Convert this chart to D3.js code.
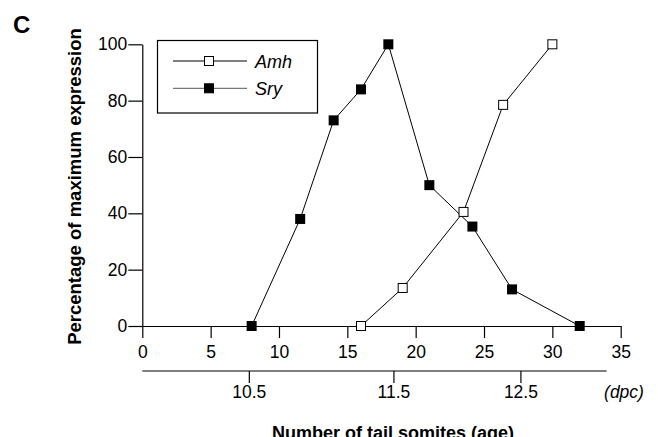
<!DOCTYPE html>
<html>
<head>
<meta charset="utf-8">
<script src="https://cdn.jsdelivr.net/npm/d3@7"></script>
<style>
  body { margin: 0; background: #fff; }
  svg { display: block; font-family: "Liberation Sans", Arial, sans-serif; }
</style>
</head>
<body>
<svg id="chart" width="658" height="437"></svg>
<script>
// Data
var sryX = [8, 11.55, 14, 16, 18, 21, 24.15, 27.05, 32];
var sryY = [0, 38, 73, 84, 100, 50, 35.3, 13, 0];
var amhX = [16, 19.05, 23.5, 26.4, 30];
var amhY = [0, 13.5, 40.5, 78.5, 100];

var xTicks = [0, 5, 10, 15, 20, 25, 30, 35];
var yTicks = [0, 20, 40, 60, 80, 100];
// age axis: labels and the somite count they sit at
var dpcLabels = ["10.5", "11.5", "12.5"];
var dpcSomites = [7.83, 18.41, 27.7];

var svg = d3.select("#chart");

var xScale = d3.scaleLinear().domain([0, 35]).range([142.3, 620.7]);
var yScale = d3.scaleLinear().domain([0, 100]).range([326, 44.3]);

// Axes
var xAxis = d3.axisBottom(xScale).tickValues(xTicks).tickSize(12).tickPadding(8).tickSizeOuter(0);
var gx = svg.append("g")
    .attr("transform", "translate(0," + yScale(0) + ")")
    .call(xAxis);

var yAxis = d3.axisLeft(yScale).tickValues(yTicks).tickSize(14).tickPadding(1).tickSizeOuter(0);
var gy = svg.append("g")
    .attr("transform", "translate(" + xScale(0) + ",0)")
    .call(yAxis);

[gx, gy].forEach(function(g) {
    g.selectAll("path, line").attr("stroke", "#000").attr("stroke-width", 1.2);
    g.selectAll("text").attr("font-size", 17.5).attr("fill", "#000")
        .attr("font-family", "Liberation Sans, Arial, sans-serif");
});

// Secondary age axis
var ageY = 371;
var ageG = svg.append("g");
ageG.append("line")
    .attr("x1", xScale(0)).attr("x2", xScale(33.97))
    .attr("y1", ageY).attr("y2", ageY)
    .attr("stroke", "#000").attr("stroke-width", 1.2);
ageG.selectAll(".agetick")
    .data(dpcSomites)
    .enter().append("line")
    .attr("x1", function(d) { return xScale(d); })
    .attr("x2", function(d) { return xScale(d); })
    .attr("y1", ageY).attr("y2", ageY + 12)
    .attr("stroke", "#000").attr("stroke-width", 1.2);
ageG.selectAll(".agelabel")
    .data(dpcLabels)
    .enter().append("text")
    .attr("x", function(d, i) { return xScale(dpcSomites[i]); })
    .attr("y", 398)
    .attr("text-anchor", "middle")
    .attr("font-size", 17.5)
    .text(function(d) { return d; });
ageG.append("text")
    .attr("x", 624).attr("y", 398)
    .attr("text-anchor", "middle")
    .attr("font-size", 17.5)
    .attr("font-style", "italic")
    .text("(dpc)");

// Titles
svg.append("text")
    .attr("x", 393).attr("y", 439)
    .attr("text-anchor", "middle")
    .attr("font-size", 18).attr("font-weight", "bold")
    .text("Number of tail somites (age)");

svg.append("text")
    .attr("transform", "translate(81,186.5) rotate(-90)")
    .attr("text-anchor", "middle")
    .attr("font-size", 18.5).attr("font-weight", "bold")
    .text("Percentage of maximum expression");

svg.append("text")
    .attr("x", 13).attr("y", 33)
    .attr("font-size", 24).attr("font-weight", "bold")
    .text("C");

// Series
var line = d3.line()
    .x(function(d) { return xScale(d[0]); })
    .y(function(d) { return yScale(d[1]); });

var sry = d3.zip(sryX, sryY);
var amh = d3.zip(amhX, amhY);
var sq = 10;

svg.append("path").datum(sry).attr("d", line)
    .attr("fill", "none").attr("stroke", "#000").attr("stroke-width", 1);
svg.append("path").datum(amh).attr("d", line)
    .attr("fill", "none").attr("stroke", "#000").attr("stroke-width", 1);

svg.append("g").selectAll("rect")
    .data(sry).enter().append("rect")
    .attr("x", function(d) { return xScale(d[0]) - sq / 2; })
    .attr("y", function(d) { return yScale(d[1]) - sq / 2; })
    .attr("width", sq).attr("height", sq)
    .attr("fill", "#000");

svg.append("g").selectAll("rect")
    .data(amh).enter().append("rect")
    .attr("x", function(d) { return xScale(d[0]) - (sq - 1) / 2; })
    .attr("y", function(d) { return yScale(d[1]) - (sq - 1) / 2; })
    .attr("width", sq - 1).attr("height", sq - 1)
    .attr("fill", "#fff").attr("stroke", "#000").attr("stroke-width", 1);

// Legend
var legend = svg.append("g");
legend.append("rect")
    .attr("x", 157.5).attr("y", 40.5).attr("width", 160).attr("height", 72.5)
    .attr("fill", "#fff").attr("stroke", "#000").attr("stroke-width", 1.2);

var legendItems = [
    { name: "Amh", y: 61, base: 68, open: true, col: "#000" },
    { name: "Sry", y: 88.3, base: 95, open: false, col: "#555" }
];
legendItems.forEach(function(it) {
    legend.append("line")
        .attr("x1", 173).attr("x2", 247).attr("y1", it.y).attr("y2", it.y)
        .attr("stroke", it.col).attr("stroke-width", 1);
    legend.append("rect")
        .attr("x", 209 - 4.5).attr("y", it.y - 4.5)
        .attr("width", 9).attr("height", 9)
        .attr("fill", it.open ? "#fff" : "#000")
        .attr("stroke", "#000").attr("stroke-width", 1);
    legend.append("text")
        .attr("x", 255).attr("y", it.base)
        .attr("font-size", 18).attr("font-style", "italic")
        .text(it.name);
});
</script>
</body>
</html>
